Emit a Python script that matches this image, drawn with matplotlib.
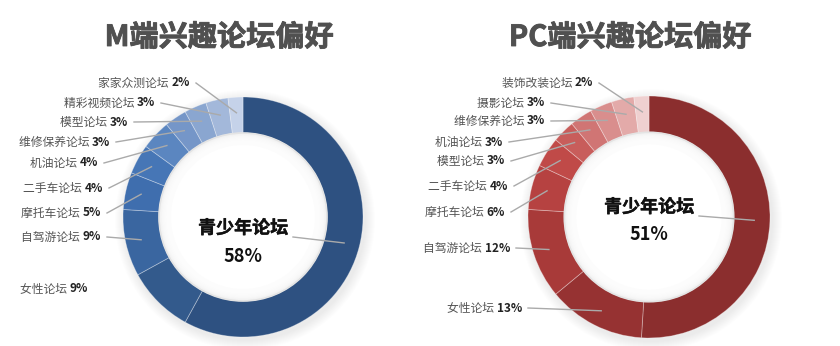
import numpy as np
import matplotlib
matplotlib.use("Agg")
import matplotlib.pyplot as plt
import matplotlib.patheffects as pe

plt.rcParams['font.family'] = ['Noto Sans CJK SC', 'DejaVu Sans']

# data, clockwise from 12 o'clock
m_names = ['青少年论坛', '女性论坛', '自驾游论坛', '摩托车论坛', '二手车论坛',
           '机油论坛', '维修保养论坛', '模型论坛', '精彩视频论坛', '家家众测论坛']
m_values = [58, 9, 9, 5, 4, 4, 3, 3, 3, 2]

pc_names = ['青少年论坛', '女性论坛', '自驾游论坛', '摩托车论坛', '二手车论坛',
            '模型论坛', '机油论坛', '维修保养论坛', '摄影论坛', '装饰改装论坛']
pc_values = [51, 13, 12, 6, 4, 3, 3, 3, 3, 2]

titles = ['M端兴趣论坛偏好', 'PC端兴趣论坛偏好']

m_colors = ['#2e5181', '#335a8c', '#3a66a0', '#3f6eae', '#4676b6',
            '#5b86c0', '#7596c8', '#8aa6d0', '#a3b8da', '#c5d2e9']
pc_colors = ['#8b2e2e', '#963232', '#a83a39', '#b64241', '#c04a48',
             '#c85d5b', '#d07574', '#d98e8d', '#e3aaa9', '#efd0d0']

W, H = 840, 346

# layout (pixel coords, y from top): label right end for slices 2..10
m_label_pos = [(88, 289), (101, 237), (101, 213), (103, 188), (98, 163),
               (110, 142), (128, 122), (155, 103), (190, 83)]
pc_label_pos = [(522, 308), (510, 248), (505, 212), (508, 186), (505, 161),
                (503, 142), (545, 121), (545, 103), (593, 83)]

thick = lambda c, w: [pe.withStroke(linewidth=w, foreground=c)]


def donut(ax, cx, cy, r, names, values, colors, label_pos, center_y,
          no_leader=()):
    cy_d = H - cy
    # soft shadow
    for k in range(10):
        ax.add_patch(plt.Circle((cx + 2, cy_d - 3), r + 10 - k, color='#000000',
                                alpha=0.008, lw=0))
    wedges, _ = ax.pie(values, colors=colors, startangle=90, counterclock=False,
                       center=(cx, cy_d), radius=r,
                       wedgeprops=dict(width=r * 0.3, edgecolor=(1, 1, 1, 0.35),
                                       linewidth=0.6))
    # faint inner shadow
    r_in = r * 0.7
    for k in range(12):
        ax.add_patch(plt.Circle((cx, cy_d), r_in - k * 1.0, color='white',
                                alpha=0.25, lw=0))
    ax.add_patch(plt.Circle((cx, cy_d), r_in - 12, color='white', lw=0))
    ax.add_patch(plt.Circle((cx, cy_d), r_in, fill=False, ec='#e4e4e4', lw=1.2))

    mids = [np.deg2rad((w.theta1 + w.theta2) / 2) for w in wedges]
    # center label
    ax.text(cx, H - center_y, names[0], ha='center', va='center',
            fontsize=13, fontweight='bold', color='#111111',
            path_effects=thick('#111111', 0.3))
    ax.text(cx, H - center_y - 28, f'{values[0]}%', ha='center', va='center',
            fontsize=13, fontweight='bold', color='#111111')
    tx = cx + r * 0.87 * np.cos(mids[0])
    ty = cy_d + r * 0.87 * np.sin(mids[0])
    ax.plot([cx + 50, tx], [H - center_y - 9, ty], color='#aaaaaa', lw=1)

    for i, (x_end, y) in enumerate(label_pos, start=1):
        yd = H - y
        pct = ax.text(x_end, yd, f'{values[i]}%', ha='right', va='center',
                      fontsize=8.5, fontweight='bold', color='#222222')
        ax.annotate(names[i] + ' ', xy=(0, 0.5), xycoords=pct, ha='right',
                    va='center', fontsize=8.5, color='#555555')
        if i in no_leader:
            continue
        tx = cx + r * 0.87 * np.cos(mids[i])
        ty = cy_d + r * 0.87 * np.sin(mids[i])
        ax.plot([x_end + 6, tx], [yd, ty], color='#aaaaaa', lw=1)


fig = plt.figure(figsize=(W / 100, H / 100), dpi=100)
ax = fig.add_axes([0, 0, 1, 1])

donut(ax, 243, 217, 120, m_names, m_values, m_colors, m_label_pos, 228,
      no_leader=(1,))
donut(ax, 649, 217, 121, pc_names, pc_values, pc_colors, pc_label_pos, 207)

ax.text(219, H - 37, titles[0], ha='center', va='center', fontsize=21,
        fontweight='bold', color='#505050', path_effects=thick('#505050', 0.6))
ax.text(630, H - 37, titles[1], ha='center', va='center', fontsize=21,
        fontweight='bold', color='#505050', path_effects=thick('#505050', 0.6))

ax.set_xlim(0, W)
ax.set_ylim(0, H)
ax.set_aspect('auto')
ax.axis('off')

fig.savefig('out.png', dpi=100)
